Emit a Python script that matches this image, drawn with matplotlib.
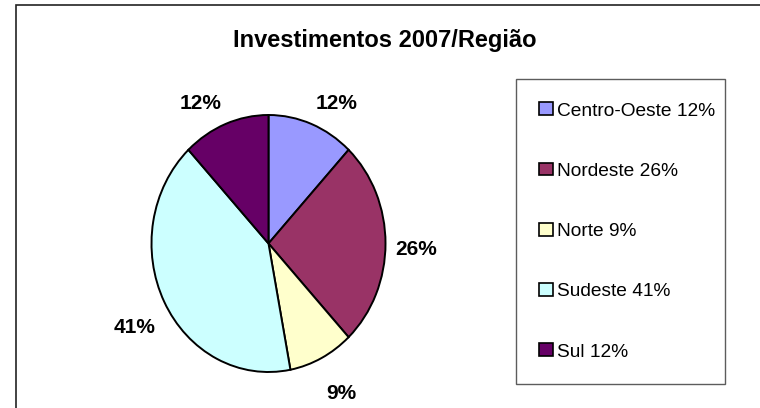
import numpy as np
import matplotlib
matplotlib.use('Agg')
import matplotlib.pyplot as plt
from matplotlib.patches import Rectangle

plt.rcParams['font.family'] = ['Liberation Sans', 'DejaVu Sans']

# dados do grafico
regioes = ['Centro-Oeste', 'Nordeste', 'Norte', 'Sudeste', 'Sul']
percentuais = [12, 26, 9, 41, 12]
cores = ['#9999FF', '#993366', '#FFFFCC', '#CCFFFF', '#660066']
titulo = 'Investimentos 2007/Região'

W, H = 760, 408
fig = plt.figure(figsize=(W / 100, H / 100), dpi=100)
fig.patch.set_facecolor('white')

# moldura externa (so topo e esquerda aparecem no recorte)
fig.add_artist(Rectangle((16 / W, -0.2), 1.2, 1.2 - 5 / H, transform=fig.transFigure,
                         fill=False, edgecolor='#222222', linewidth=1.2))

fig.text(385 / W, 1 - 41 / H, titulo, ha='center', va='center',
         fontsize=17, fontweight='bold')

# pizza eliptica
ax = fig.add_axes([(268.5 - 117) / W, (408 - 372) / H, 234 / W, 257 / H])
wedges, _ = ax.pie(percentuais, colors=cores, startangle=90, counterclock=False,
                   radius=1.0, wedgeprops=dict(edgecolor='black', linewidth=1.4))
ax.set_xlim(-1, 1)
ax.set_ylim(-1, 1)
ax.set_aspect('auto')
ax.axis('off')

# rotulos de porcentagem fora das fatias
vals = np.array(percentuais, dtype=float)
cum = np.cumsum(vals)
meio = np.deg2rad(90 - 360 * (cum - vals / 2) / vals.sum())
for v, t in zip(percentuais, meio):
    c, s = np.cos(t), np.sin(t)
    ha = 'left' if c > 0.1 else ('right' if c < -0.1 else 'center')
    va = 'bottom' if s > 0.1 else ('top' if s < -0.1 else 'center')
    dy = s * (18 if s > 0 else 22) - 6
    ax.annotate(f'{v}%', xy=(c, s), xytext=(10 * c, dy), textcoords='offset pixels',
                ha=ha, va=va, fontsize=15, fontweight='bold', annotation_clip=False)

rotulos = [f'{n} {p}%' for n, p in zip(regioes, percentuais)]
leg = fig.legend(wedges, rotulos, loc='upper left',
                 bbox_to_anchor=(516 / W, (408 - 383) / H, 209 / W, 304 / H),
                 mode='expand', fontsize=13.8, frameon=True, fancybox=False,
                 borderpad=1.22, labelspacing=2.25, handlelength=0.7,
                 handleheight=0.65, handletextpad=0.2, borderaxespad=0)
leg.get_frame().set_edgecolor('#333333')
leg.get_frame().set_linewidth(1.0)
for h in leg.legend_handles:
    h.set_edgecolor('black')
    h.set_linewidth(1.2)

fig.savefig('out.png', dpi=100)
